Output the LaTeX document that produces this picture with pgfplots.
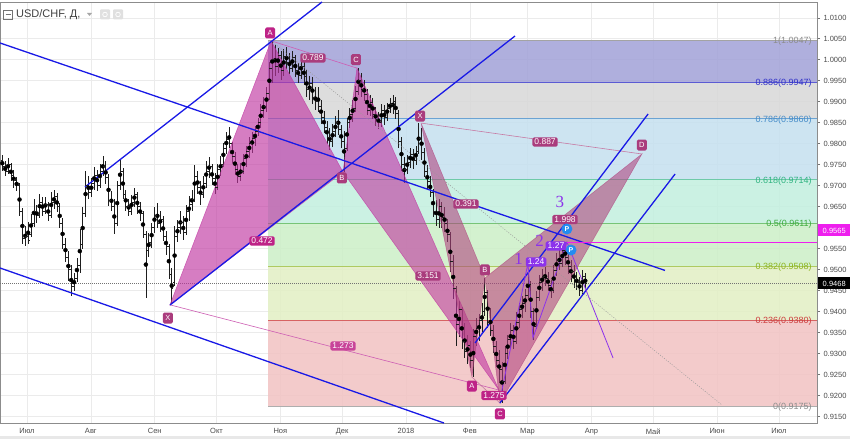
\documentclass[border=0pt]{standalone}
\usepackage{fontspec}
\setmainfont{Liberation Sans}
\newfontfamily\wavefont{Liberation Serif}
\usepackage{pgfplots}
\usepackage{pgfplotstable}
\pgfplotsset{compat=1.18}

\definecolor{chan}{RGB}{25,25,230}
\definecolor{bandA}{RGB}{162,162,216}
\definecolor{bandB}{RGB}{216,216,216}
\definecolor{bandC}{RGB}{197,224,239}
\definecolor{bandD}{RGB}{195,239,223}
\definecolor{bandE}{RGB}{204,239,199}
\definecolor{bandF}{RGB}{226,239,196}
\definecolor{bandG}{RGB}{241,194,195}
\definecolor{fibgray}{RGB}{140,140,140}
\definecolor{fibA}{RGB}{50,50,200}
\definecolor{fibB}{RGB}{70,140,200}
\definecolor{fibC}{RGB}{50,180,130}
\definecolor{fibD}{RGB}{60,170,60}
\definecolor{fibE}{RGB}{140,180,30}
\definecolor{fibF}{RGB}{205,60,60}
\definecolor{patA}{RGB}{192,52,160}
\definecolor{patB}{RGB}{175,65,125}
\definecolor{labA}{RGB}{190,35,135}
\definecolor{labB}{RGB}{170,60,125}
\definecolor{wave}{RGB}{140,50,235}
\definecolor{pblue}{RGB}{35,140,240}
\definecolor{mag}{RGB}{238,30,238}
\definecolor{bar}{RGB}{30,30,30}

\pgfdeclareplotmark{otick}{\pgfpathmoveto{\pgfpoint{-1.6pt}{0pt}}\pgfpathlineto{\pgfpoint{0pt}{0pt}}\pgfusepathqstroke}
\pgfdeclareplotmark{ctick}{\pgfpathmoveto{\pgfpoint{0pt}{0pt}}\pgfpathlineto{\pgfpoint{1.6pt}{0pt}}\pgfusepathqstroke}

\tikzset{
  rl/.style={fill=#1, text=white, rounded corners=1.5pt, inner xsep=2pt, inner ysep=1.6pt, font=\fontsize{8.5}{9}\selectfont},
  ll/.style={fill=#1, text=white, rounded corners=1.5pt, inner sep=1pt, minimum width=10pt, minimum height=11pt, font=\fontsize{7.5}{8}\selectfont},
  fl/.style={anchor=east, text=#1, inner sep=0pt, font=\fontsize{9}{10}\selectfont},
  pp/.style={circle, fill=pblue, text=white, inner sep=0pt, minimum size=11pt, font=\bfseries\fontsize{7}{7}\selectfont},
  wv/.style={text=wave, inner sep=0pt, font=\wavefont\fontsize{17}{17}\selectfont},
}

% daily bars, USD/CHF, day = days since 1 Jul 2017
\pgfplotstableread{
d o h l c
-12 0.9760 0.9772 0.9735 0.9745
-11 0.9745 0.9758 0.9722 0.9735
-10 0.9735 0.9765 0.9728 0.9750
-9 0.9750 0.9754 0.9712 0.9725
-8 0.9725 0.9738 0.9695 0.9715
-5 0.9712 0.9720 0.9688 0.9700
-4 0.9700 0.9706 0.9628 0.9640
-3 0.9640 0.9648 0.9560 0.9575
-2 0.9575 0.9605 0.9556 0.9580
-1 0.9580 0.9614 0.9562 0.9570
2 0.9585 0.9632 0.9578 0.9610
3 0.9610 0.9668 0.9602 0.9640
4 0.9640 0.9655 0.9612 0.9630
5 0.9630 0.9680 0.9622 0.9660
6 0.9660 0.9672 0.9628 0.9640
9 0.9640 0.9674 0.9632 0.9655
10 0.9655 0.9662 0.9615 0.9630
11 0.9630 0.9684 0.9624 0.9660
12 0.9660 0.9690 0.9645 0.9675
13 0.9675 0.9682 0.9638 0.9650
16 0.9650 0.9658 0.9598 0.9610
17 0.9610 0.9622 0.9548 0.9560
18 0.9560 0.9575 0.9518 0.9530
19 0.9530 0.9545 0.9472 0.9500
20 0.9500 0.9512 0.9438 0.9460
23 0.9460 0.9492 0.9448 0.9480
24 0.9480 0.9528 0.9470 0.9510
25 0.9510 0.9596 0.9492 0.9560
26 0.9560 0.9650 0.9548 0.9635
27 0.9635 0.9735 0.9625 0.9700
30 0.9700 0.9722 0.9668 0.9685
31 0.9685 0.9718 0.9672 0.9705
32 0.9705 0.9745 0.9690 0.9725
33 0.9725 0.9738 0.9688 0.9700
34 0.9700 0.9752 0.9694 0.9735
37 0.9735 0.9770 0.9722 0.9745
38 0.9745 0.9758 0.9705 0.9720
39 0.9720 0.9728 0.9652 0.9665
40 0.9665 0.9688 0.9640 0.9650
41 0.9650 0.9668 0.9585 0.9610
44 0.9610 0.9712 0.9605 0.9700
45 0.9700 0.9762 0.9690 0.9735
46 0.9735 0.9742 0.9668 0.9680
47 0.9680 0.9690 0.9640 0.9650
48 0.9650 0.9668 0.9628 0.9640
51 0.9640 0.9678 0.9630 0.9660
52 0.9660 0.9695 0.9648 0.9680
53 0.9680 0.9686 0.9632 0.9650
54 0.9650 0.9662 0.9615 0.9635
55 0.9635 0.9640 0.9575 0.9585
58 0.9585 0.9592 0.9432 0.9545
59 0.9545 0.9588 0.9530 0.9565
60 0.9565 0.9612 0.9552 0.9600
61 0.9600 0.9650 0.9588 0.9630
62 0.9630 0.9658 0.9598 0.9610
65 0.9610 0.9640 0.9590 0.9620
66 0.9620 0.9628 0.9568 0.9580
67 0.9580 0.9592 0.9535 0.9555
68 0.9555 0.9562 0.9478 0.9490
69 0.9490 0.9505 0.9418 0.9455
72 0.9470 0.9605 0.9462 0.9580
73 0.9580 0.9618 0.9565 0.9600
74 0.9600 0.9640 0.9585 0.9612
75 0.9612 0.9628 0.9570 0.9590
76 0.9590 0.9655 0.9582 0.9640
79 0.9640 0.9675 0.9615 0.9655
80 0.9655 0.9690 0.9640 0.9668
81 0.9668 0.9750 0.9660 0.9722
82 0.9722 0.9735 0.9680 0.9695
83 0.9695 0.9712 0.9655 0.9680
86 0.9680 0.9722 0.9670 0.9705
87 0.9705 0.9758 0.9695 0.9735
88 0.9735 0.9768 0.9718 0.9745
89 0.9745 0.9752 0.9702 0.9718
90 0.9718 0.9730 0.9680 0.9695
93 0.9695 0.9752 0.9690 0.9740
94 0.9740 0.9770 0.9722 0.9752
95 0.9752 0.9802 0.9745 0.9790
96 0.9790 0.9828 0.9775 0.9810
97 0.9810 0.9840 0.9790 0.9800
100 0.9800 0.9805 0.9755 0.9770
101 0.9770 0.9780 0.9725 0.9740
102 0.9740 0.9752 0.9706 0.9722
103 0.9722 0.9755 0.9712 0.9735
104 0.9735 0.9775 0.9728 0.9765
107 0.9765 0.9795 0.9745 0.9782
108 0.9782 0.9815 0.9765 0.9800
109 0.9800 0.9828 0.9778 0.9812
110 0.9812 0.9842 0.9795 0.9830
111 0.9830 0.9862 0.9818 0.9850
114 0.9850 0.9895 0.9838 0.9880
115 0.9880 0.9912 0.9862 0.9890
116 0.9890 0.9935 0.9875 0.9920
117 0.9920 0.9995 0.9905 0.9980
118 0.9980 1.0047 0.9945 1.0000
121 1.0000 1.0035 0.9962 0.9985
122 0.9985 1.0028 0.9968 1.0010
123 1.0010 1.0020 0.9952 0.9975
124 0.9975 1.0025 0.9962 1.0008
125 1.0008 1.0030 0.9978 0.9995
128 0.9995 1.0015 0.9965 0.9980
129 0.9980 1.0022 0.9970 1.0005
130 1.0005 1.0012 0.9958 0.9975
131 0.9975 0.9992 0.9945 0.9962
132 0.9962 1.0005 0.9955 0.9985
135 0.9985 0.9998 0.9940 0.9960
136 0.9960 0.9975 0.9912 0.9930
137 0.9930 0.9962 0.9905 0.9945
138 0.9945 0.9958 0.9895 0.9910
139 0.9910 0.9935 0.9880 0.9900
142 0.9900 0.9935 0.9875 0.9890
143 0.9890 0.9905 0.9848 0.9862
144 0.9862 0.9878 0.9825 0.9840
145 0.9840 0.9855 0.9800 0.9815
146 0.9815 0.9838 0.9785 0.9805
149 0.9805 0.9848 0.9792 0.9830
150 0.9830 0.9865 0.9815 0.9850
151 0.9850 0.9880 0.9820 0.9835
152 0.9835 0.9845 0.9790 0.9805
153 0.9805 0.9830 0.9733 0.9790
156 0.9790 0.9862 0.9782 0.9850
157 0.9850 0.9885 0.9838 0.9870
158 0.9870 0.9905 0.9852 0.9885
159 0.9885 0.9938 0.9875 0.9925
160 0.9925 0.9980 0.9915 0.9950
163 0.9950 0.9968 0.9910 0.9930
164 0.9930 0.9952 0.9902 0.9918
165 0.9918 0.9930 0.9868 0.9880
166 0.9880 0.9915 0.9865 0.9898
167 0.9898 0.9910 0.9858 0.9870
170 0.9870 0.9888 0.9842 0.9858
171 0.9858 0.9875 0.9835 0.9850
172 0.9850 0.9895 0.9840 0.9880
173 0.9880 0.9892 0.9845 0.9862
174 0.9862 0.9898 0.9855 0.9885
177 0.9885 0.9908 0.9872 0.9895
178 0.9895 0.9915 0.9870 0.9900
179 0.9900 0.9912 0.9858 0.9872
180 0.9872 0.9880 0.9790 0.9805
181 0.9805 0.9815 0.9735 0.9750
184 0.9750 0.9768 0.9706 0.9740
185 0.9740 0.9772 0.9728 0.9755
186 0.9755 0.9790 0.9742 0.9775
187 0.9775 0.9788 0.9740 0.9760
188 0.9760 0.9795 0.9750 0.9782
191 0.9782 0.9849 0.9775 0.9812
192 0.9812 0.9838 0.9762 0.9780
193 0.9780 0.9790 0.9720 0.9735
194 0.9735 0.9750 0.9690 0.9710
195 0.9710 0.9722 0.9672 0.9685
198 0.9685 0.9692 0.9625 0.9640
199 0.9640 0.9665 0.9605 0.9620
200 0.9620 0.9668 0.9600 0.9650
201 0.9650 0.9662 0.9598 0.9625
202 0.9625 0.9648 0.9590 0.9610
205 0.9610 0.9620 0.9565 0.9585
206 0.9585 0.9590 0.9495 0.9520
207 0.9520 0.9535 0.9430 0.9455
208 0.9455 0.9462 0.9318 0.9370
209 0.9370 0.9425 0.9340 0.9405
212 0.9405 0.9410 0.9310 0.9330
213 0.9330 0.9372 0.9290 0.9305
214 0.9305 0.9345 0.9275 0.9320
215 0.9320 0.9330 0.9265 0.9285
216 0.9285 0.9358 0.9244 0.9340
219 0.9340 0.9385 0.9318 0.9360
220 0.9360 0.9395 0.9330 0.9380
221 0.9380 0.9420 0.9352 0.9400
222 0.9400 0.9480 0.9390 0.9445
223 0.9445 0.9452 0.9362 0.9375
226 0.9375 0.9408 0.9342 0.9355
227 0.9355 0.9368 0.9302 0.9318
228 0.9318 0.9330 0.9268 0.9285
229 0.9285 0.9308 0.9230 0.9262
230 0.9262 0.9280 0.9182 0.9235
233 0.9235 0.9318 0.9228 0.9300
234 0.9300 0.9345 0.9288 0.9335
235 0.9335 0.9372 0.9310 0.9355
236 0.9355 0.9368 0.9312 0.9330
237 0.9330 0.9398 0.9322 0.9375
240 0.9375 0.9420 0.9360 0.9405
241 0.9405 0.9438 0.9385 0.9420
242 0.9420 0.9455 0.9398 0.9440
243 0.9440 0.9495 0.9428 0.9465
244 0.9465 0.9472 0.9385 0.9400
247 0.9400 0.9408 0.9332 0.9365
248 0.9365 0.9448 0.9358 0.9435
249 0.9435 0.9488 0.9425 0.9470
250 0.9470 0.9502 0.9450 0.9485
251 0.9485 0.9506 0.9462 0.9480
254 0.9480 0.9495 0.9448 0.9462
255 0.9462 0.9475 0.9432 0.9450
256 0.9450 0.9512 0.9445 0.9498
257 0.9498 0.9540 0.9485 0.9522
258 0.9522 0.9548 0.9498 0.9515
261 0.9515 0.9560 0.9505 0.9545
262 0.9545 0.9566 0.9510 0.9530
263 0.9530 0.9545 0.9490 0.9508
264 0.9508 0.9522 0.9470 0.9495
265 0.9495 0.9512 0.9455 0.9478
268 0.9478 0.9495 0.9452 0.9470
269 0.9470 0.9482 0.9438 0.9450
270 0.9450 0.9498 0.9442 0.9485
271 0.9485 0.9492 0.9455 0.9468
}\ohlc

\begin{document}
\begin{tikzpicture}[x=1pt,y=1pt]
\path[use as bounding box] (0,0) rectangle (850,439);
\fill[white] (0,0) rectangle (850,439);
\fill[black!9] (0,0) rectangle (850,3.5);

\begin{axis}[
  at={(0pt,16pt)}, anchor=south west,
  scale only axis, width=817pt, height=421pt,
  xmin=-13.107, xmax=383.5,
  ymin=0.913445, ymax=1.013754,
  clip=true,
  axis line style={draw=black!45, line width=0.6pt},
  xtick={0,31,62,92,123,153,184,215,243,274,304,335,365},
  xticklabels={Июл,Авг,Сен,Окт,Ноя,Дек,2018,Фев,Мар,Апр,Май,Июн,Июл},
  xtick pos=bottom, xtick style={draw=none},
  ytick={0.915,0.92,0.925,0.93,0.935,0.94,0.945,0.95,0.955,0.96,0.965,0.97,0.975,0.98,0.985,0.99,0.995,1.0,1.005,1.01},
  yticklabels={0.9150,0.9200,0.9250,0.9300,0.9350,0.9400,0.9450,0.9500,0.9550,{},0.9650,0.9700,0.9750,0.9800,0.9850,0.9900,0.9950,1.0000,1.0050,1.0100},
  ytick pos=right, yticklabel pos=right,
  tick align=outside, major tick length=3pt,
  ytick style={draw=black!55, line width=0.5pt},
  ticklabel style={font=\fontsize{7.5}{8}\selectfont, text=black!70},
  xticklabel style={yshift=1pt},
  grid=major, major grid style={draw=black!8, line width=0.5pt},
]

% fibonacci retracement bands
\addplot[fill=bandA, fill opacity=0.85, draw=none] coordinates {(117,1.0047) (383.5,1.0047) (383.5,0.9947) (117,0.9947)} -- cycle;
\addplot[fill=bandB, fill opacity=0.85, draw=none] coordinates {(117,0.9947) (383.5,0.9947) (383.5,0.9860) (117,0.9860)} -- cycle;
\addplot[fill=bandC, fill opacity=0.85, draw=none] coordinates {(117,0.9860) (383.5,0.9860) (383.5,0.9714) (117,0.9714)} -- cycle;
\addplot[fill=bandD, fill opacity=0.85, draw=none] coordinates {(117,0.9714) (383.5,0.9714) (383.5,0.9611) (117,0.9611)} -- cycle;
\addplot[fill=bandE, fill opacity=0.85, draw=none] coordinates {(117,0.9611) (383.5,0.9611) (383.5,0.9508) (117,0.9508)} -- cycle;
\addplot[fill=bandF, fill opacity=0.85, draw=none] coordinates {(117,0.9508) (383.5,0.9508) (383.5,0.9380) (117,0.9380)} -- cycle;
\addplot[fill=bandG, fill opacity=0.85, draw=none] coordinates {(117,0.9380) (383.5,0.9380) (383.5,0.9175) (117,0.9175)} -- cycle;
\addplot[fibgray!80, line width=0.7pt] coordinates {(117,1.0047) (383.5,1.0047)};
\addplot[fibA!80, line width=0.7pt] coordinates {(117,0.9947) (383.5,0.9947)};
\addplot[fibB!80, line width=0.7pt] coordinates {(117,0.9860) (383.5,0.9860)};
\addplot[fibC!70, line width=0.7pt] coordinates {(117,0.9714) (383.5,0.9714)};
\addplot[fibD!70, line width=0.7pt] coordinates {(117,0.9611) (383.5,0.9611)};
\addplot[fibE!70, line width=0.7pt] coordinates {(117,0.9508) (383.5,0.9508)};
\addplot[fibF!80, line width=0.7pt] coordinates {(117,0.9380) (383.5,0.9380)};
\addplot[fibgray!70, line width=0.7pt] coordinates {(117,0.9175) (383.5,0.9175)};

% last price
\addplot[black!55, line width=0.4pt, dash pattern=on 1pt off 1pt] coordinates {(-13.107,0.9468) (383.5,0.9468)};

% OHLC bars, evenly spaced like the trading platform
\addplot[only marks, mark=none, forget plot,
  error bars/.cd, y dir=both, y explicit, error mark=none,
  error bar style={draw=bar, line width=0.55pt}]
  table[x expr={-12+\coordindex*1.3941}, y expr={(\thisrow{h}+\thisrow{l})/2}, y error expr={(\thisrow{h}-\thisrow{l})/2}] {\ohlc};
\addplot[only marks, mark=otick, draw=bar, mark options={line width=0.5pt}]
  table[x expr={-12+\coordindex*1.3941}, y=o] {\ohlc};
\addplot[only marks, mark=ctick, draw=bar, mark options={line width=0.5pt}]
  table[x expr={-12+\coordindex*1.3941}, y=c] {\ohlc};

% harmonic pattern 1 (X A B C D)
\addplot[fill=patA, fill opacity=0.64, draw=patA, draw opacity=0.7, line width=0.5pt] coordinates {(69.4,0.9416) (118.5,1.0045) (153.4,0.97325)} -- cycle;
\addplot[fill=patA, fill opacity=0.6, draw=patA, draw opacity=0.7, line width=0.5pt] coordinates {(153.4,0.97325) (160.2,0.9980) (229.1,0.9213)} -- cycle;
\addplot[patA!80, line width=0.6pt] coordinates {(69.4,0.9416) (229.1,0.9213)};
\addplot[patA!80, line width=0.6pt] coordinates {(118.5,1.0045) (160.2,0.9980)};

% harmonic pattern 2
\addplot[fill=patB, fill opacity=0.58, draw=patB, draw opacity=0.6, line width=0.5pt] coordinates {(191.3,0.9849) (216.0,0.9244) (222.3,0.9480)} -- cycle;
\addplot[fill=patB, fill opacity=0.58, draw=patB, draw opacity=0.6, line width=0.5pt] coordinates {(222.3,0.9480) (229.6,0.9182) (298.5,0.97754)} -- cycle;
\addplot[patB!70, line width=0.6pt] coordinates {(191.3,0.9849) (298.5,0.97754)};
\addplot[patB!70, line width=0.6pt] coordinates {(216.0,0.9244) (229.6,0.9182)};

% dotted trend from A
\addplot[black!40, line width=0.5pt, dash pattern=on 1pt off 1.5pt] coordinates {(118.5,1.0045) (337.4,0.91773)};

% channels
\addplot[chan, line width=1.3pt] coordinates {(-13.107,1.00399) (309.7,0.94980)};
\addplot[chan, line width=1.3pt] coordinates {(-13.107,0.95038) (202.4,0.91345)};
\addplot[chan, line width=1.3pt] coordinates {(28.16,0.96968) (143.2,1.01375)};
\addplot[chan, line width=1.3pt] coordinates {(69.42,0.94156) (236.9,1.00565)};
\addplot[chan, line width=1.3pt] coordinates {(217.5,0.93251) (301.5,0.98707)};
\addplot[chan, line width=1.3pt] coordinates {(229.6,0.91821) (314.6,0.97277)};

% wave count
\addplot[wave, line width=0.8pt] coordinates {(229.6,0.9190) (243.2,0.95157) (245.6,0.93370) (262.1,0.95657) (284.5,0.92893)};

% resistance level
\addplot[mag, line width=1.2pt] coordinates {(262.1,0.9565) (383.5,0.9565)};

% fibonacci labels
\node[fl=fibgray] at (axis cs:381,1.0044) {1(1.0047)};
\node[fl=fibA] at (axis cs:381,0.9944) {0.886(0.9947)};
\node[fl=fibB] at (axis cs:381,0.9857) {0.786(0.9860)};
\node[fl=fibC] at (axis cs:381,0.9711) {0.618(0.9714)};
\node[fl=fibD] at (axis cs:381,0.9608) {0.5(0.9611)};
\node[fl=fibE] at (axis cs:381,0.9505) {0.382(0.9508)};
\node[fl=fibF] at (axis cs:381,0.9377) {0.236(0.9380)};
\node[fl=fibgray] at (axis cs:381,0.9172) {0(0.9175)};

% ratio labels
\node[rl=labA] at (axis cs:114.1,0.95681) {0.472};
\node[rl=labB] at (axis cs:138.8,1.00041) {0.789};
\node[rl=labB] at (axis cs:194.7,0.94847) {3.151};
\node[rl=labA!85] at (axis cs:153.4,0.93179) {1.273};
\node[rl=labB] at (axis cs:213.1,0.96562) {0.391};
\node[rl=labA] at (axis cs:226.7,0.9200) {1.275};
\node[rl=labB] at (axis cs:261.2,0.96194) {1.998};
\node[rl=labB] at (axis cs:251.5,0.98040) {0.887};
\node[rl=wave] at (axis cs:247.1,0.95181) {1.24};
\node[rl=wave] at (axis cs:256.8,0.95562) {1.27};

% point labels
\node[ll=labA] at (axis cs:118,1.00637) {A};
\node[ll=labB] at (axis cs:152.9,0.97182) {B};
\node[ll=labB] at (axis cs:159.7,1.0000) {C};
\node[ll=labB] at (axis cs:68.4,0.93846) {X};
\node[ll=labB] at (axis cs:190.8,0.98659) {X};
\node[ll=labA] at (axis cs:216,0.92226) {A};
\node[ll=labB] at (axis cs:222.3,0.9499) {B};
\node[ll=labA] at (axis cs:229.6,0.91559) {C};
\node[ll=labB] at (axis cs:298.5,0.97968) {D};

\node[wv] at (axis cs:238.6,0.95253) {1};
\node[wv] at (axis cs:248.8,0.95681) {2};
\node[wv] at (axis cs:258.7,0.96611) {3};
\node[pp] at (axis cs:262.1,0.95967) {P};
\node[pp] at (axis cs:264.1,0.95466) {P};
\end{axis}

% header
\draw[black!55, line width=0.6pt] (3.5,420) rectangle (12.5,429);
\draw[black!55, line width=0.6pt] (5.5,424.5) -- (10.5,424.5);
\node[anchor=west, inner sep=0pt, text=black!75, font=\fontsize{11}{12}\selectfont] at (16,424.5) {USD/CHF, Д,};
\fill[black!35] (87,426) -- (92,426) -- (89.5,423) -- cycle;
\fill[black!12, rounded corners=1pt] (100,419.5) rectangle (110,429.5);
\fill[black!12, rounded corners=1pt] (113,419.5) rectangle (123,429.5);
\draw[white, line width=0.7pt] (105,424.5) circle (2.3);
\draw[white, line width=0.7pt] (118,424.5) circle (2.3);

% price labels on the scale
\node[fill=mag, text=white, anchor=west, inner xsep=2pt, inner ysep=1.5pt, minimum width=32pt, minimum height=12pt, font=\fontsize{7.5}{8}\selectfont] at (818,208.5) {0.9565};
\node[fill=black, text=white, anchor=west, inner xsep=2pt, inner ysep=1.5pt, minimum width=32pt, minimum height=12pt, font=\fontsize{7.5}{8}\selectfont] at (818,155.5) {0.9468};
\end{tikzpicture}
\end{document}
